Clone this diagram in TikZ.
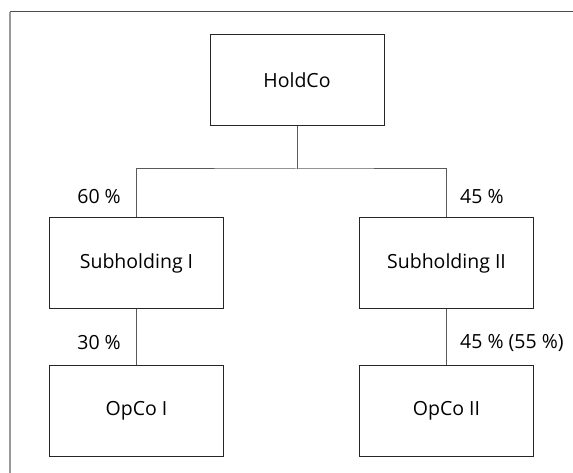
\documentclass[tikz,border=0pt]{standalone}
\usepackage{fontspec}
\setmainfont{Open Sans}
\begin{document}
\begin{tikzpicture}[x=1pt,y=-1pt,
  box/.style={draw=black!85,line width=0.9pt,minimum width=174pt,minimum height=91pt,inner sep=0pt,font=\fontsize{19.5}{22}\selectfont},
  conn/.style={draw=black!65,line width=1pt},
  pct/.style={font=\fontsize{19.5}{22}\selectfont,inner sep=0pt}]
\useasboundingbox (0,0) rectangle (573,473);
\draw[black!70,line width=1pt] (10,12) -- (573,12);
\draw[black!40,line width=1.2pt] (10,12) -- (10,473);
\node[box] (hold) at (297,80) {HoldCo};
\node[box] (sub1) at (136.5,263) {Subholding I};
\node[box] (sub2) at (446.5,263) {Subholding II};
\node[box] (op1) at (136.5,410.5) {OpCo I};
\node[box] (op2) at (446.5,410.5) {OpCo II};
\coordinate (mid) at (297,169);
\draw[conn] (hold.south) -- (mid);
\draw[conn] (sub1.north) |- (mid) -| (sub2.north);
\draw[conn] (sub1.south) -- (op1.north);
\draw[conn] (sub2.south) -- (op2.north);
\node[pct,anchor=east] (p1) at (121,197) {60 \%};
\node[pct,anchor=west] (p2) at (460,197) {45 \%};
\node[pct,anchor=east] (p3) at (121,343) {30 \%};
\node[pct,anchor=west] (p4) at (460,343) {45 \% (55 \%)};
\end{tikzpicture}
\end{document}
